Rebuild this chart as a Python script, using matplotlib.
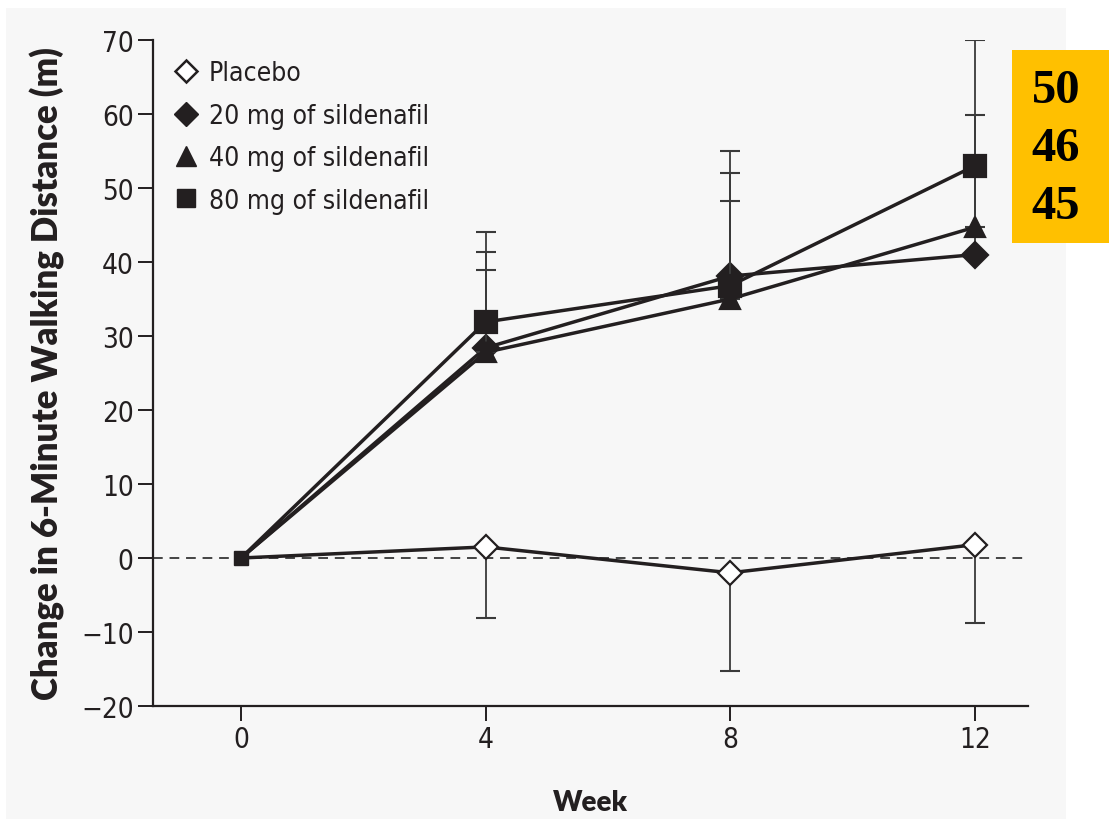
import matplotlib
matplotlib.use("Agg")
import matplotlib.pyplot as plt
from matplotlib.lines import Line2D
from matplotlib.patches import Rectangle
from matplotlib.font_manager import FontProperties
import numpy as np

weeks = [0, 4, 8, 12]
placebo = [0, 1.5, -2.0, 1.8]
mg20 = [0, 28.4, 38.1, 41.0]
mg40 = [0, 27.8, 35.0, 44.7]
mg80 = [0, 31.9, 36.8, 53.0]

placebo_lower = [0, -8.1, -15.3, -8.8]
mg20_upper = [0, 41.4, 52.0, 52.0]
mg40_upper = [0, 38.9, 48.2, 59.8]
mg80_upper = [0, 44.1, 55.0, 70.0]

legend_labels = ["Placebo", "20 mg of sildenafil", "40 mg of sildenafil", "80 mg of sildenafil"]
yticks = [-20, -10, 0, 10, 20, 30, 40, 50, 60, 70]
xticks = [0, 4, 8, 12]
box_values = ["50", "46", "45"]

W, H = 1109, 820
fig = plt.figure(figsize=(W / 100, H / 100), dpi=100)
fig.patch.set_facecolor("white")
fig.patches.append(Rectangle((6 / W, 0), (1066 - 6) / W, 1 - 9 / H,
                             transform=fig.transFigure, facecolor="#f7f7f7",
                             edgecolor="none", zorder=-10))

ax = fig.add_axes([153 / W, 1 - 707 / H, (1028 - 153) / W, (707 - 41) / H])
ax.set_facecolor("none")
ax.set_zorder(1)

ink = "#231f20"
ebar = "#3a3a3a"
tick_fp = FontProperties(family="DejaVu Sans", stretch="condensed", size=20)
leg_fp = FontProperties(family="DejaVu Sans", stretch="condensed", size=19)
bold_font = ["Lato", "DejaVu Sans"]

ax.axhline(0, color="#444444", lw=1.4, ls=(0, (5, 3.5)), zorder=1)

def draw(y, marker, ms, face, err, zo):
    y = np.asarray(y, dtype=float)
    err = np.asarray(err, dtype=float)
    lo = np.where(err < y, y - err, 0)
    hi = np.where(err > y, err - y, 0)
    ax.errorbar(weeks[1:], y[1:], yerr=[lo[1:], hi[1:]], fmt="none",
                ecolor=ebar, elinewidth=1.3, capsize=7, capthick=1.5, zorder=zo)
    ax.plot(weeks, y, color=ink, lw=2.5, zorder=zo + 0.5)
    ax.plot(weeks[1:], y[1:], ls="none", marker=marker, ms=ms,
            mfc=face, mec=ink, mew=1.6, zorder=zo + 1)

draw(placebo, "D", 12.5, "white", placebo_lower, 3)
draw(mg20, "D", 13, ink, mg20_upper, 4)
draw(mg40, "^", 15, ink, mg40_upper, 5)
draw(mg80, "s", 16, ink, mg80_upper, 6)
ax.plot(weeks[:1], mg80[:1], ls="none", marker="s", ms=10, mfc=ink, mec=ink, zorder=9)

ax.set_xlim(-1.44, 12.87)
ax.set_ylim(-20, 70)
ax.set_xticks(xticks)
ax.set_yticks(yticks)
ax.set_xticklabels([str(t) for t in xticks], fontproperties=tick_fp, color=ink)
ax.set_yticklabels([("\u2212" + str(-t)) if t < 0 else str(t) for t in yticks],
                   fontproperties=tick_fp, color=ink)
ax.tick_params(axis="both", direction="out", length=11, width=1.4, color=ink, pad=3)
for s in ["top", "right"]:
    ax.spines[s].set_visible(False)
for s in ["left", "bottom"]:
    ax.spines[s].set_linewidth(1.6)
    ax.spines[s].set_color(ink)

ax.set_ylabel("Change in 6-Minute Walking Distance (m)", family=bold_font,
              fontweight="heavy", fontsize=25, color=ink)
ax.yaxis.set_label_coords(-0.10, 0.5)
ax.set_xlabel("Week", family=bold_font, fontweight="heavy", fontsize=20, color=ink)
ax.xaxis.set_label_coords(0.5, -0.125)

handles = [
    Line2D([], [], ls="none", marker="D", ms=11, mfc="white", mec=ink, mew=1.8),
    Line2D([], [], ls="none", marker="D", ms=12, mfc=ink, mec=ink),
    Line2D([], [], ls="none", marker="^", ms=15, mfc=ink, mec=ink),
    Line2D([], [], ls="none", marker="s", ms=13, mfc=ink, mec=ink),
]
leg = ax.legend(handles, legend_labels, loc="upper left", bbox_to_anchor=(-0.004, 1.005),
                frameon=False, handlelength=1.0, handletextpad=0.35, labelspacing=0.62,
                prop=leg_fp)
for t in leg.get_texts():
    t.set_color(ink)

fig.patches.append(Rectangle((1012 / W, 1 - 244 / H), (1109 - 1012) / W, (244 - 51) / H,
                             transform=fig.transFigure, facecolor="#FFC000",
                             edgecolor="none", zorder=5))
for i, v in enumerate(box_values):
    fig.text(1056 / W, 1 - (91 + 58 * i) / H, v, ha="center", va="center",
             family=["Liberation Serif", "DejaVu Serif"], fontweight="bold",
             fontsize=35, color="black", zorder=6)

fig.savefig("out.png", dpi=100)
